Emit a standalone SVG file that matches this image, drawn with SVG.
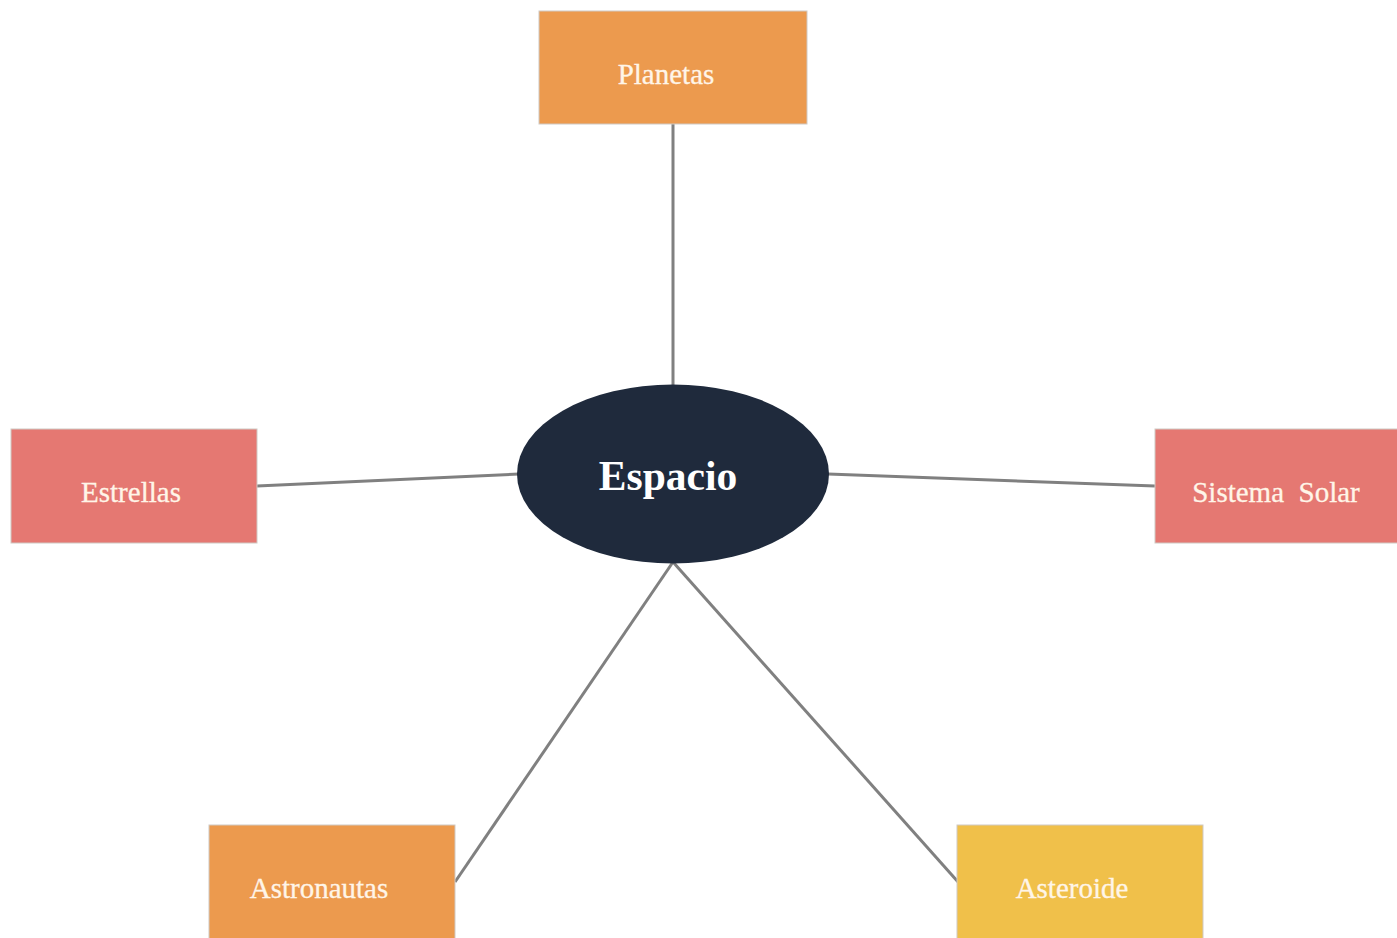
<svg xmlns="http://www.w3.org/2000/svg" width="1397" height="938" viewBox="0 0 1397 938">
  <style>
    .box { stroke: #cfc9c4; stroke-width: 1; }
    .orange { fill: #ec9a4e; }
    .red { fill: #e57872; }
    .yellow { fill: #f0c04a; }
    .label { font-family: "Liberation Serif", "Times New Roman", serif; font-size: 29px; fill: #fff5e8; stroke: #fff5e8; stroke-width: 0.3; text-anchor: middle; }
    .link { stroke: #808080; stroke-width: 3; fill: none; }
  </style>
  <rect width="1397" height="938" fill="#ffffff"/>

  <!-- connectors from the central ellipse to each topic -->
  <g id="connectors">
    <line class="link" x1="673" y1="124" x2="673" y2="387"/>
    <line class="link" x1="257" y1="486" x2="519" y2="474"/>
    <line class="link" x1="828" y1="474" x2="1155" y2="486"/>
    <line class="link" x1="673" y1="562" x2="455" y2="882"/>
    <line class="link" x1="673" y1="562" x2="959" y2="883"/>
  </g>

  <g id="espacio">
    <ellipse cx="673" cy="474" rx="156" ry="89.500" fill="#1f2a3c"/>
    <text x="668" y="490" font-family="'Liberation Serif', 'Times New Roman', serif" font-size="41.500" font-weight="bold" fill="#ffffff" text-anchor="middle">Espacio</text>
  </g>

  <g id="planetas">
    <rect class="box orange" x="539" y="11" width="268" height="113"/>
    <text class="label" x="666" y="84">Planetas</text>
  </g>

  <g id="estrellas">
    <rect class="box red" x="11" y="429" width="246" height="114"/>
    <text class="label" x="131" y="502">Estrellas</text>
  </g>

  <g id="sistema-solar">
    <rect class="box red" x="1155" y="429" width="250" height="114"/>
    <text class="label" x="1276" y="502" xml:space="preserve">Sistema  Solar</text>
  </g>

  <g id="astronautas">
    <rect class="box orange" x="209" y="825" width="246" height="120"/>
    <text class="label" x="319" y="898">Astronautas</text>
  </g>

  <g id="asteroide">
    <rect class="box yellow" x="957" y="825" width="246" height="120"/>
    <text class="label" x="1072" y="898">Asteroide</text>
  </g>
</svg>
